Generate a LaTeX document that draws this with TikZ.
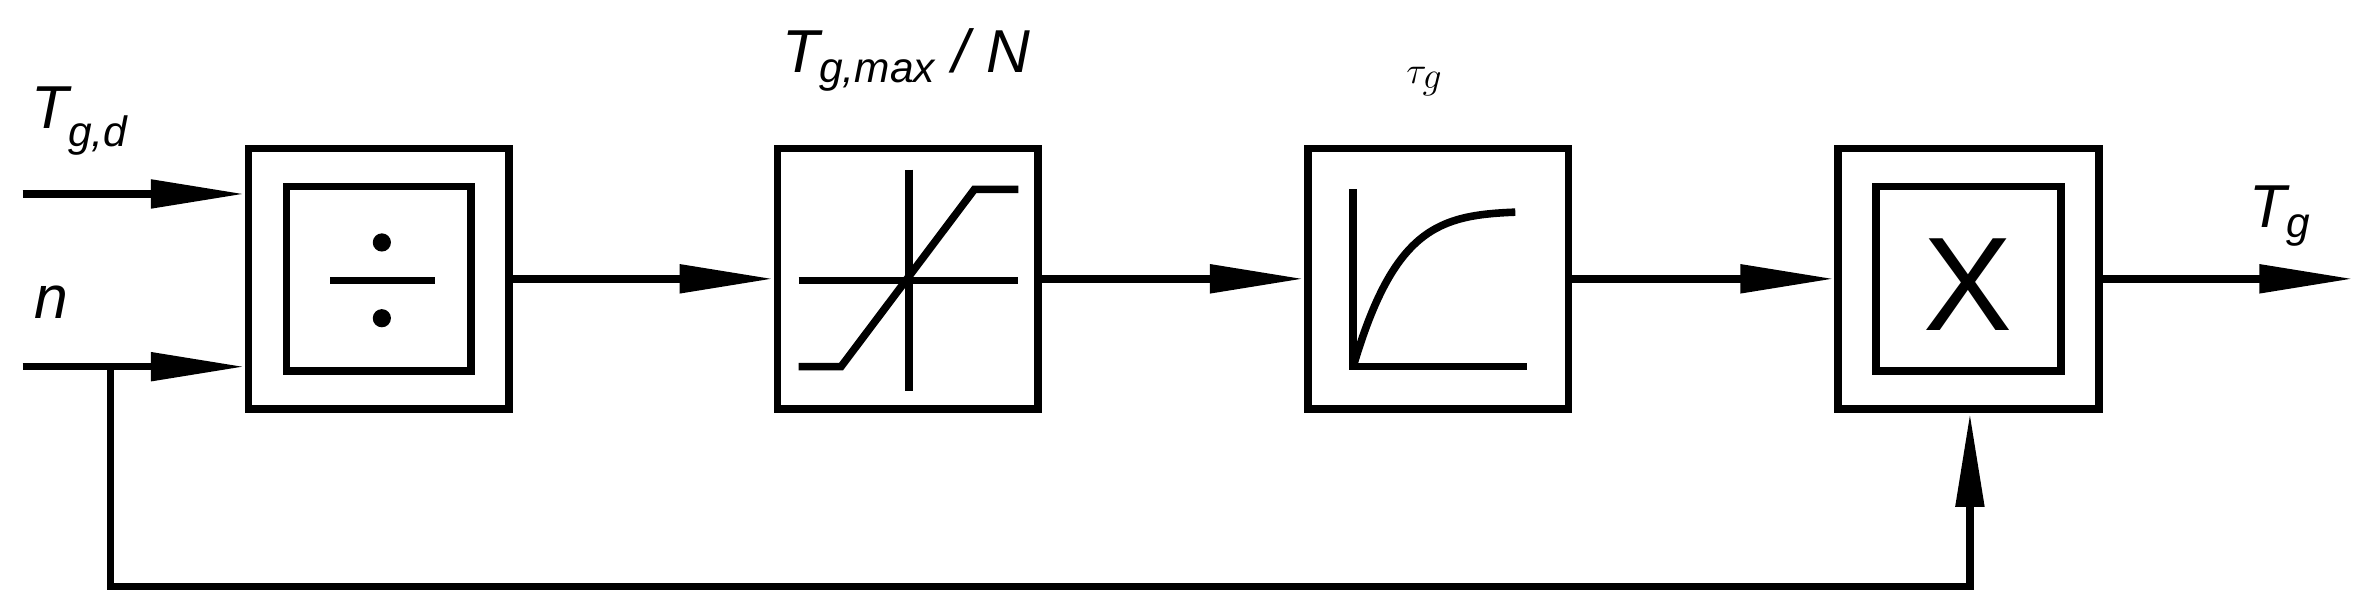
\documentclass[tikz,border=0pt]{standalone}
\usepackage{fontspec}
\setmainfont{Liberation Sans}
\usetikzlibrary{arrows.meta}
\begin{document}
\begin{tikzpicture}[x=1pt,y=-1pt,line width=5pt,
  arr/.style={-{Triangle[length=62pt,width=18pt]}},
  blk/.style={draw,minimum width=172pt,minimum height=172pt,inner sep=0pt},
  inr/.style={draw,minimum width=122pt,minimum height=122pt,inner sep=0pt},
  lbl/.style={font=\fontsize{40}{40}\selectfont\itshape,inner sep=0pt}]
\useasboundingbox (0,0) rectangle (1568,404);
\node[blk] (b1) at (250,184) {};
\node[inr] (i1) at (250,184) {};
\node[blk] (b2) at (599,184) {};
\node[blk] (b3) at (949,184) {};
\node[blk] (b4) at (1299,184) {};
\node[inr] (i4) at (1299,184) {};
% divide
\draw (218,185) -- (287,185);
\fill (252,160) circle (6);
\fill (252,210) circle (6);
% saturation
\draw (527,185) -- (672,185);
\draw (600,112) -- (600,258);
\draw (527,242) -- (555,242) -- (643,125) -- (672,125);
% first-order
\draw (893,125) -- (893,242) -- (1008,242);
\draw (893,242) .. controls (920,150) and (950,142) .. (1000,140);
% multiply
\node[font=\fontsize{88}{88}\selectfont] at (1299,188) {X};
% inputs
\coordinate (a1) at (15,128);
\coordinate (a2) at (15,242);
\draw[arr] (a1) -- (b1.west |- a1);
\draw[arr] (a2) -- (b1.west |- a2);
\draw[arr] (b1.east) -- (b2.west);
\draw[arr] (b2.east) -- (b3.west);
\draw[arr] (b3.east) -- (b4.west);
\coordinate (out) at (1553,184);
\draw[arr] (b4.east) -- (out);
\coordinate (f1) at (73,242);
\coordinate (f2) at (73,387);
\coordinate (f3) at (1300,387);
\draw[arr] (f1) -- (f2) -- (f3) -- (b4.south -| f3);
% labels
\node[lbl,anchor=base west] (l1) at (18,85) {T\textsubscript{g,d}};
\node[lbl,anchor=base west] (l2) at (20,210) {n};
\node[lbl,anchor=base] (l3) at (598,48) {T\textsubscript{g,max} / N};
\node[lbl,anchor=base] (l4) at (940,55) {$\tau_g$};
\node[lbl,anchor=base] (l5) at (1505,150) {T\textsubscript{g}};
\end{tikzpicture}
\end{document}
